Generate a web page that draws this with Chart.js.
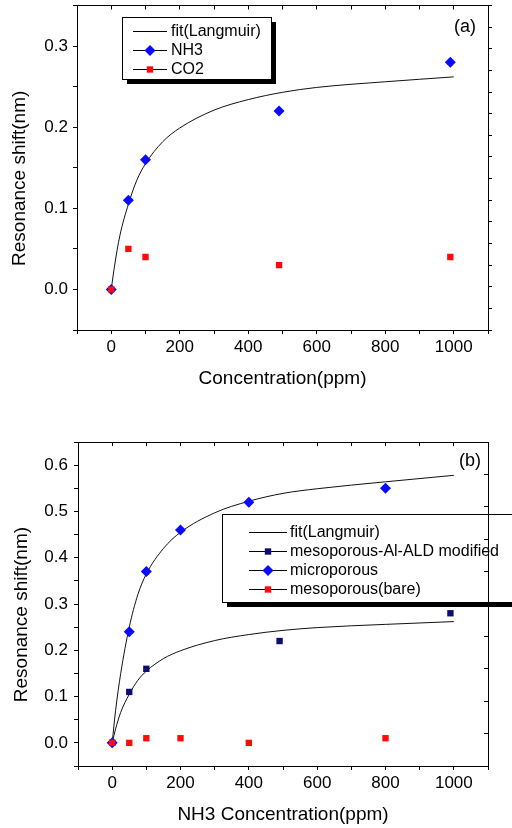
<!DOCTYPE html>
<html>
<head>
<meta charset="utf-8">
<script src="https://cdn.jsdelivr.net/npm/chart.js@4"></script>
<style>
  html, body { margin: 0; padding: 0; background: #fff; }
  canvas { display: block; }
</style>
</head>
<body>
<canvas id="chartA" width="512" height="400"></canvas>
<canvas id="chartB" width="512" height="428"></canvas>
<script>
(function(){
// panel (a): NH3 vs CO2
const concA = [0, 50, 100, 490, 990];
const nh3A = [0, 0.11, 0.16, 0.22, 0.28];
const co2A = [0, 0.05, 0.04, 0.03, 0.04];

// fitted Langmuir curves
const fitConc = [0, 10, 25, 50, 75, 100, 150, 200, 300, 400, 500, 600, 800, 1000];
const fitLow = [0, 0.030, 0.066, 0.105, 0.135, 0.155, 0.182, 0.199, 0.221, 0.234, 0.243, 0.249, 0.256, 0.262];
const fitHigh = [0, 0.07, 0.15, 0.25, 0.32, 0.365, 0.42, 0.455, 0.497, 0.522, 0.539, 0.549, 0.564, 0.578];

// panel (b): NH3 on three films
const concB = [0, 50, 100, 200, 400, 800];
const microB = [0, 0.24, 0.37, 0.46, 0.52, 0.55];
const bareB = [0, 0, 0.01, 0.01, 0, 0.01];
const concAld = [0, 50, 100, 490, 990];
const aldB = [0, 0.11, 0.16, 0.22, 0.28];

const FONT = '"Liberation Sans", Arial, sans-serif';
const BLUE = '#0a0aff';
const NAVY = '#0c0c78';
const RED = '#ff0a0a';

const pts = (xs, ys) => xs.map((x, i) => ({ x: x, y: ys[i] }));

function marker(ctx, style, r, x, y, color) {
  ctx.fillStyle = color;
  ctx.beginPath();
  if (style === 'rectRot') {
    ctx.moveTo(x - r, y); ctx.lineTo(x, y - r); ctx.lineTo(x + r, y); ctx.lineTo(x, y + r);
  } else {
    const s = r * Math.SQRT1_2;
    ctx.rect(x - s, y - s, 2 * s, 2 * s);
  }
  ctx.closePath();
  ctx.fill();
}

// Origin-style boxed legend with a drop shadow
const boxLegend = {
  id: 'boxLegend',
  afterDatasetsDraw(chart, args, o) {
    const ctx = chart.ctx;
    ctx.save();
    ctx.fillStyle = '#000';
    ctx.fillRect(o.x + 5, o.y + 5, o.w, o.h);
    ctx.fillStyle = '#fff';
    ctx.fillRect(o.x, o.y, o.w, o.h);
    ctx.strokeStyle = '#000';
    ctx.lineWidth = 1;
    ctx.strokeRect(o.x + 0.5, o.y + 0.5, o.w, o.h);
    ctx.font = '16px ' + FONT;
    ctx.textBaseline = 'middle';
    let row = 0;
    chart.data.datasets.forEach(ds => {
      if (ds.noLegend) return;
      const y = Math.round(o.y + o.first + row * o.step) + 0.5;
      ctx.strokeStyle = '#000';
      ctx.beginPath();
      ctx.moveTo(o.x0, y);
      ctx.lineTo(o.x1, y);
      ctx.stroke();
      if (ds.pointRadius > 0) marker(ctx, ds.pointStyle, ds.pointRadius, (o.x0 + o.x1) / 2, y, ds.backgroundColor);
      ctx.fillStyle = '#000';
      ctx.fillText(ds.label, o.tx, y);
      row++;
    });
    ctx.restore();
  }
};

const panelTag = {
  id: 'panelTag',
  afterDraw(chart, args, o) {
    const ctx = chart.ctx;
    ctx.save();
    ctx.font = '18px ' + FONT;
    ctx.fillStyle = '#000';
    ctx.textAlign = 'center';
    ctx.textBaseline = 'middle';
    ctx.fillText(o.text, o.x, o.y);
    ctx.restore();
  }
};

function scatterSet(label, xs, ys, style, r, color, order) {
  return {
    label: label, data: pts(xs, ys), showLine: false, order: order,
    pointStyle: style, pointRadius: r, pointBorderWidth: 0,
    backgroundColor: color, borderColor: color
  };
}

function fitSet(ys, noLegend) {
  return {
    label: 'fit(Langmuir)', data: pts(fitConc, ys), showLine: true, order: 5,
    noLegend: noLegend, pointRadius: 0, borderColor: '#111', borderWidth: 1,
    backgroundColor: '#111', cubicInterpolationMode: 'monotone'
  };
}

function axes(c) {
  const tickFont = { size: 17, family: FONT };
  const titleFont = { size: 19, family: FONT };
  return {
    x: {
      type: 'linear', position: 'bottom', min: -100, max: 1100,
      afterFit: s => { s.height = c.bottomH; },
      border: { color: '#000' },
      grid: { drawOnChartArea: false, tickLength: 4, color: '#000' },
      ticks: {
        stepSize: 100, autoSkip: false, maxRotation: 0, padding: 3, color: '#000', font: tickFont,
        callback: v => (v % 200 === 0 ? String(v) : '')
      },
      title: { display: true, text: c.xTitle, color: '#000', font: titleFont, padding: { top: 0, bottom: c.xTitlePad } }
    },
    x2: {
      type: 'linear', position: 'top', min: -100, max: 1100,
      afterFit: s => { s.height = 5; },
      border: { color: '#000' },
      grid: { drawOnChartArea: false, tickLength: -4, color: '#000' },
      ticks: { display: false, stepSize: 100 }
    },
    y: {
      type: 'linear', position: 'left', min: -0.05, max: c.yMax,
      afterFit: s => { s.width = c.leftW; },
      border: { color: '#000' },
      grid: { drawOnChartArea: false, tickLength: 4, color: '#000' },
      ticks: {
        stepSize: 0.05, autoSkip: false, padding: c.yPad, color: '#000',
        // tiny line height so the top label does not push the plot down
        font: { size: 17, family: FONT, lineHeight: 0.05 },
        callback: v => { const k = Math.round(v * 20); return k % 2 === 0 ? (k / 20).toFixed(1) : ''; }
      },
      // trailing spaces push the title a little down, as in the original
      title: { display: true, text: 'Resonance shift(nm)    ', color: '#000', font: titleFont, padding: { top: c.yTitlePad, bottom: 0 } }
    },
    y2: {
      type: 'linear', position: 'right', min: 0, max: c.rightSteps,
      afterFit: s => { s.width = 24; },
      border: { color: '#000', z: 1 },
      grid: { drawOnChartArea: false, tickLength: c.rightTick, color: '#000', z: 1 },
      ticks: { display: false, stepSize: 1 }
    }
  };
}

function options(c) {
  return {
    responsive: false,
    animation: false,
    events: [],
    layout: { padding: { top: c.padTop, left: 0, right: 0, bottom: 0 } },
    scales: axes(c),
    plugins: {
      legend: { display: false },
      tooltip: { enabled: false },
      boxLegend: c.legend,
      panelTag: c.tag
    }
  };
}

new Chart(document.getElementById('chartA'), {
  type: 'scatter',
  data: {
    datasets: [
      fitSet(fitLow, false),
      scatterSet('NH3', concA, nh3A, 'rectRot', 5.5, BLUE, 2),
      scatterSet('CO2', concA, co2A, 'rect', 4.5, RED, 1)
    ]
  },
  options: options({
    xTitle: 'Concentration(ppm)', yMax: 0.35, padTop: 0, bottomH: 70, leftW: 77,
    xTitlePad: 10, yTitlePad: 8, yPad: 5, rightSteps: 15, rightTick: 4,
    legend: { x: 122, y: 17, w: 149, h: 62, first: 13.5, step: 19, x0: 133, x1: 167, tx: 171 },
    tag: { text: '(a)', x: 465, y: 27 }
  }),
  plugins: [boxLegend, panelTag]
});

new Chart(document.getElementById('chartB'), {
  type: 'scatter',
  data: {
    datasets: [
      fitSet(fitHigh, false),
      scatterSet('mesoporous-Al-ALD modified', concAld, aldB, 'rect', 4.5, NAVY, 3),
      scatterSet('microporous', concB, microB, 'rectRot', 5.5, BLUE, 2),
      scatterSet('mesoporous(bare)', concB, bareB, 'rect', 4.5, RED, 1),
      fitSet(fitLow, true)
    ]
  },
  options: options({
    xTitle: 'NH3 Concentration(ppm)', yMax: 0.65, padTop: 37, bottomH: 62, leftW: 78,
    xTitlePad: 2, yTitlePad: 10, yPad: 6, rightSteps: 10, rightTick: -4,
    legend: { x: 222, y: 114, w: 300, h: 88, first: 17.5, step: 19, x0: 249, x1: 287, tx: 290 },
    tag: { text: '(b)', x: 470, y: 61 }
  }),
  plugins: [boxLegend, panelTag]
});
})();
</script>
</body>
</html>
